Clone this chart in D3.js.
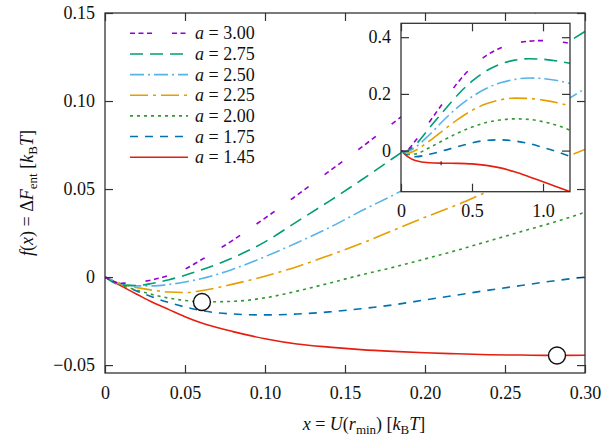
<!DOCTYPE html>
<html><head><meta charset="utf-8">
<script src="https://cdn.jsdelivr.net/npm/d3@7"></script>
<style>
html,body{margin:0;padding:0;background:#fff;}
</style></head>
<body><svg id="c" width="606" height="445"></svg>
<script>
// ---------- data ----------
const aLabels = ["3.00","2.75","2.50","2.25","2.00","1.75","1.45"];
const xMain = [0,0.01,0.02,0.03,0.04,0.05,0.06,0.08,0.10,0.12,0.14,0.16,0.18,0.20,0.22,0.24,0.26,0.28,0.30];
const fMain_a300 = [0,-0.0035,-0.003,-0.0015,0.001,0.0045,0.0097,0.021,0.0335,0.0465,0.060,0.0735,0.0875,0.101,0.115,0.129,0.143,0.157,0.171];
const fMain_a275 = [0,-0.0045,-0.0048,-0.0035,-0.0015,0.001,0.004,0.011,0.020,0.0315,0.043,0.055,0.0675,0.080,0.092,0.104,0.116,0.128,0.1395];
const fMain_a250 = [0,-0.004,-0.005,-0.005,-0.0042,-0.0028,-0.001,0.0045,0.0116,0.0195,0.028,0.0375,0.0465,0.056,0.066,0.076,0.086,0.096,0.107];
const fMain_a225 = [0,-0.004,-0.006,-0.0075,-0.0085,-0.0088,-0.0078,-0.004,0.0005,0.0059,0.0123,0.019,0.0265,0.034,0.041,0.049,0.057,0.065,0.0725];
const fMain_a200 = [0,-0.0045,-0.0075,-0.010,-0.012,-0.0133,-0.0141,-0.0138,-0.0118,-0.008,-0.0035,0.0012,0.0055,0.0103,0.0152,0.0205,0.0258,0.031,0.0368];
const fMain_a175 = [0,-0.004,-0.008,-0.0115,-0.0145,-0.017,-0.019,-0.021,-0.0215,-0.021,-0.0198,-0.018,-0.0158,-0.013,-0.0102,-0.0074,-0.0048,-0.0022,0.0];
const fMain_a145 = [0,-0.005,-0.0098,-0.0145,-0.0185,-0.0225,-0.026,-0.031,-0.035,-0.038,-0.0398,-0.0412,-0.0422,-0.043,-0.0436,-0.0441,-0.0443,-0.0445,-0.0444];

const xInset = [0,0.02,0.05,0.1,0.2,0.3,0.4,0.5,0.6,0.7,0.8,0.9,1.0,1.1,1.19];
const fInset_a300 = [0,-0.003,0.0045,0.0335,0.101,0.171,0.240,0.295,0.335,0.362,0.378,0.386,0.388,0.385,0.378];
const fInset_a275 = [0,-0.0048,0.001,0.020,0.080,0.1395,0.197,0.245,0.281,0.305,0.319,0.324,0.322,0.316,0.308];
const fInset_a250 = [0,-0.005,-0.0028,0.0116,0.056,0.107,0.153,0.190,0.219,0.239,0.251,0.256,0.254,0.247,0.237];
const fInset_a225 = [0,-0.006,-0.0088,0.0005,0.034,0.0725,0.110,0.142,0.165,0.179,0.185,0.184,0.178,0.169,0.157];
const fInset_a200 = [0,-0.0075,-0.0133,-0.0118,0.0103,0.0368,0.062,0.083,0.099,0.108,0.112,0.110,0.102,0.089,0.072];
const fInset_a175 = [0,-0.008,-0.017,-0.0215,-0.013,0.0,0.014,0.027,0.036,0.038,0.034,0.025,0.011,-0.004,-0.021];
const fInset_a145 = [0,-0.0098,-0.0225,-0.035,-0.043,-0.0444,-0.045,-0.047,-0.052,-0.061,-0.075,-0.092,-0.110,-0.128,-0.145];

// minima markers (x, f)
const markX = [0.0606, 0.2825];
const markF = [-0.0142, -0.0446];

const xTicksMain = [0,0.05,0.10,0.15,0.20,0.25,0.30];
const xTickLabelsMain = ["0","0.05","0.10","0.15","0.20","0.25","0.30"];
const yTicksMain = [-0.05,0,0.05,0.10,0.15];
const yTickLabelsMain = ["\u22120.05","0","0.05","0.10","0.15"];
const xTicksInset = [0,0.5,1.0];
const xTickLabelsInset = ["0","0.5","1.0"];
const yTicksInset = [0,0.2,0.4];
const yTickLabelsInset = ["0","0.2","0.4"];

// ---------- styles ----------
const FONT = "Liberation Serif";
const FS = 18;
const mainSeries = [fMain_a300,fMain_a275,fMain_a250,fMain_a225,fMain_a200,fMain_a175,fMain_a145];
const insetSeries = [fInset_a300,fInset_a275,fInset_a250,fInset_a225,fInset_a200,fInset_a175,fInset_a145];
const colors = ["#9400d3","#009e73","#56b4e9","#e69f00","#339933","#0072b2","#e51e10"];
const dashes = ["5,3.5,5,3.5,5,20","13,7","14,4,2,4","18,5,3,5","3,4","8,7",null];

const svg = d3.select("#c");
const frameColor = "#333";
function txt(sel){ return sel.style("font-family",FONT).style("font-size",FS+"px").style("fill","#111"); }

// ---------- scales ----------
const M = {l:105, r:585, t:13, b:373};
const x = d3.scaleLinear().domain([0,0.30]).range([M.l,M.r]);
const y = d3.scaleLinear().domain([-0.0545,0.15]).range([M.b,M.t]);
const I = {l:401, r:570, t:23.3, b:191.7};
const xi = d3.scaleLinear().domain([0,1.19]).range([I.l,I.r]);
const yi = d3.scaleLinear().domain([-0.145,0.449]).range([I.b,I.t]);

svg.append("clipPath").attr("id","clipMain").append("rect")
  .attr("x",M.l).attr("y",M.t).attr("width",M.r-M.l).attr("height",M.b-M.t);
svg.append("clipPath").attr("id","clipInset").append("rect")
  .attr("x",I.l).attr("y",I.t).attr("width",I.r-I.l).attr("height",I.b-I.t);

function drawAxes(g, xs, ys, xt, xl, yt, yl, box, tl){
  const fmtX = d => xl[xt.indexOf(d)];
  const fmtY = d => yl[yt.indexOf(d)];
  const gb = g.append("g").attr("transform",`translate(0,${box.b})`)
    .call(d3.axisBottom(xs).tickValues(xt).tickFormat(fmtX).tickSizeInner(-tl).tickSizeOuter(0).tickPadding(13));
  const gt = g.append("g").attr("transform",`translate(0,${box.t})`)
    .call(d3.axisTop(xs).tickValues(xt).tickFormat("").tickSizeInner(-tl).tickSizeOuter(0));
  const gl = g.append("g").attr("transform",`translate(${box.l},0)`)
    .call(d3.axisLeft(ys).tickValues(yt).tickFormat(fmtY).tickSizeInner(-tl).tickSizeOuter(0).tickPadding(10));
  const gr = g.append("g").attr("transform",`translate(${box.r},0)`)
    .call(d3.axisRight(ys).tickValues(yt).tickFormat("").tickSizeInner(-tl).tickSizeOuter(0));
  [gb,gt,gl,gr].forEach(a=>{
    a.select(".domain").remove();
    a.selectAll("line").attr("stroke",frameColor).attr("stroke-width",1.2);
    txt(a.selectAll("text"));
  });
  g.append("rect").attr("x",box.l).attr("y",box.t).attr("width",box.r-box.l).attr("height",box.b-box.t)
    .attr("fill","none").attr("stroke",frameColor).attr("stroke-width",1.3);
}

// ---------- main curves ----------
const curvesMain = svg.append("g").attr("clip-path","url(#clipMain)");
const lineMain = d3.line().x(d=>x(d[0])).y(d=>y(d[1])).curve(d3.curveMonotoneX);
for (let i=mainSeries.length-1;i>=0;i--){
  curvesMain.append("path").datum(xMain.map((v,j)=>[v,mainSeries[i][j]]))
    .attr("d",lineMain).attr("fill","none").attr("stroke",colors[i])
    .attr("stroke-width",1.6).attr("stroke-dasharray",dashes[i]);
}
markX.forEach((mx,i)=>{
  curvesMain.append("circle").attr("cx",x(mx)).attr("cy",y(markF[i])).attr("r",8.5)
    .attr("fill","#fff").attr("stroke","#111").attr("stroke-width",1.4);
});

// ---------- inset ----------
const gIn = svg.append("g");
gIn.append("rect").attr("x",I.l).attr("y",M.t+1).attr("width",I.r-I.l).attr("height",I.b-M.t-1).attr("fill","#fff");
const curvesIn = gIn.append("g").attr("clip-path","url(#clipInset)");
const lineIn = d3.line().x(d=>xi(d[0])).y(d=>yi(d[1])).curve(d3.curveMonotoneX);
for (let i=insetSeries.length-1;i>=0;i--){
  curvesIn.append("path").datum(xInset.map((v,j)=>[v,insetSeries[i][j]]))
    .attr("d",lineIn).attr("fill","none").attr("stroke",colors[i])
    .attr("stroke-width",1.6).attr("stroke-dasharray",dashes[i]);
}
curvesIn.append("line").attr("x1",xi(markX[1])).attr("x2",xi(markX[1]))
  .attr("y1",yi(markF[1])-2).attr("y2",yi(markF[1])+2).attr("stroke","#333").attr("stroke-width",1.2);
drawAxes(gIn, xi, yi, xTicksInset, xTickLabelsInset, yTicksInset, yTickLabelsInset, I, 8);

// ---------- main axes (on top) ----------
drawAxes(svg.append("g"), x, y, xTicksMain, xTickLabelsMain, yTicksMain, yTickLabelsMain, M, 8);

// legend
const leg = svg.append("g");
aLabels.forEach((lab,i)=>{
  const yy = 33.3 + i*20.65;
  leg.append("line").attr("x1",130).attr("x2",188).attr("y1",yy).attr("y2",yy)
    .attr("stroke",colors[i]).attr("stroke-width",1.6).attr("stroke-dasharray",dashes[i]);
  const t = txt(leg.append("text").attr("x",195).attr("y",yy+6));
  t.append("tspan").style("font-style","italic").text("a");
  t.append("tspan").text(" = "+lab);
});

// axis labels
function sub(t, s){ t.append("tspan").style("font-size","13px").attr("dy",4).text(s); }
const xl = txt(svg.append("text").attr("x",364).attr("y",430).attr("text-anchor","middle"));
xl.append("tspan").style("font-style","italic").text("x");
xl.append("tspan").text(" = ");
xl.append("tspan").style("font-style","italic").text("U");
xl.append("tspan").text("(");
xl.append("tspan").style("font-style","italic").text("r");
sub(xl,"min");
xl.append("tspan").attr("dy",-4).text(") [");
xl.append("tspan").style("font-style","italic").text("k");
sub(xl,"B");
xl.append("tspan").attr("dy",-4).style("font-style","italic").text("T");
xl.append("tspan").text("]");

const yl = txt(svg.append("text").attr("transform","translate(33,193) rotate(-90)").attr("text-anchor","middle"));
yl.append("tspan").style("font-style","italic").text("f");
yl.append("tspan").text("(");
yl.append("tspan").style("font-style","italic").text("x");
yl.append("tspan").text(") = \u0394");
yl.append("tspan").style("font-style","italic").text("F");
sub(yl,"ent");
yl.append("tspan").attr("dy",-4).text(" [");
yl.append("tspan").style("font-style","italic").text("k");
sub(yl,"B");
yl.append("tspan").attr("dy",-4).style("font-style","italic").text("T");
yl.append("tspan").text("]");
</script></body></html>
